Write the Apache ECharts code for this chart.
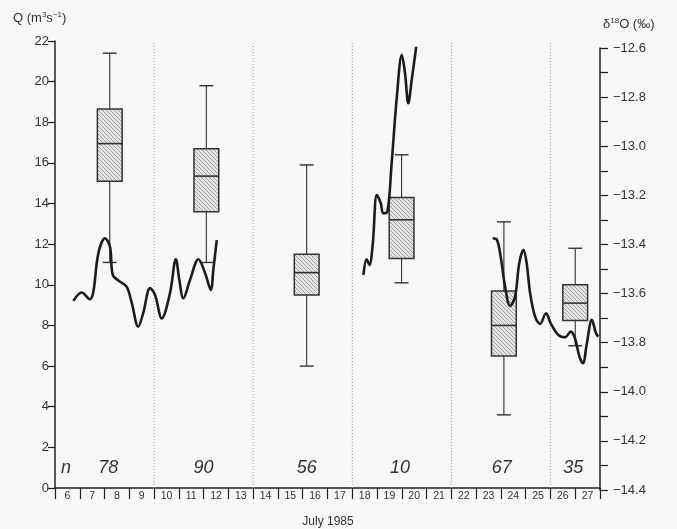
<!DOCTYPE html>
<html><head><meta charset="utf-8">
<script src="https://cdn.jsdelivr.net/npm/echarts@6/dist/echarts.min.js"></script>
<style>html,body{margin:0;padding:0;background:#f7f7f5}#c{width:677px;height:529px}</style>
</head><body><div id="c"></div>
<script>
// ---- data ----
const days = ['6','7','8','9','10','11','12','13','14','15','16','17','18','19','20','21','22','23','24','25','26','27'];
const dividers = [10, 14, 18, 22, 26];
const boxX    = [8.21, 12.11, 16.16, 19.99, 24.12, 27.0];
const boxLow  = [11.1, 11.1, 6.0, 10.1, 3.6, 7.0];
const boxQ1   = [15.1, 13.6, 9.5, 11.3, 6.5, 8.25];
const boxMed  = [16.95, 15.35, 10.6, 13.2, 8.0, 9.1];
const boxQ3   = [18.65, 16.7, 11.5, 14.3, 9.7, 10.0];
const boxHigh = [21.4, 19.8, 15.9, 16.4, 13.1, 11.8];
const nX      = [8.15, 11.99, 16.16, 19.93, 24.03, 26.92];
const nCounts = ['78', '90', '56', '10', '67', '35'];
const qTicks  = [0, 22, 2];          // min, max, interval
const oTicks  = [-14.4, -12.6, 0.2]; // min, max, interval

const seg1Days = [6.74,7.08,7.41,7.55,7.75,8.02,8.22,8.33,8.56,8.89,9.10,9.36,9.56,9.84,10.04,10.31,10.64,10.88,11.02,11.18,11.45,11.79,12.06,12.29,12.39,12.53];
const seg1Vals = [-13.630,-13.596,-13.623,-13.592,-13.436,-13.375,-13.409,-13.524,-13.547,-13.572,-13.639,-13.735,-13.680,-13.578,-13.606,-13.701,-13.599,-13.460,-13.545,-13.619,-13.545,-13.460,-13.517,-13.585,-13.504,-13.382];
const seg2Days = [18.45,18.58,18.69,18.83,18.99,19.15,19.25,19.42,19.59,19.80,20.00,20.13,20.26,20.40,20.60];
const seg2Vals = [-13.524,-13.460,-13.484,-13.395,-13.199,-13.232,-13.273,-13.267,-13.069,-12.798,-12.628,-12.703,-12.825,-12.730,-12.580];
const seg3Days = [23.67,23.83,23.99,24.17,24.37,24.57,24.74,24.91,25.04,25.18,25.38,25.58,25.82,26.01,26.32,26.59,26.82,26.99,27.17,27.31,27.47,27.67,27.84,27.93];
const seg3Vals = [-13.375,-13.379,-13.450,-13.572,-13.650,-13.613,-13.477,-13.422,-13.477,-13.599,-13.694,-13.724,-13.680,-13.721,-13.769,-13.778,-13.755,-13.782,-13.857,-13.884,-13.802,-13.707,-13.762,-13.775];

// ---- hatch pattern ----
const pc = document.createElement('canvas');
pc.width = 4; pc.height = 4;
const g = pc.getContext('2d');
g.fillStyle = '#e4e4e2'; g.fillRect(0,0,4,4);
g.strokeStyle = '#a2a2a2'; g.lineWidth = 1;
g.beginPath(); g.moveTo(-1,-1); g.lineTo(5,5); g.moveTo(-1,3); g.lineTo(1,5); g.moveTo(3,-1); g.lineTo(5,1); g.stroke();

const FONT = '"Liberation Sans", Arial, sans-serif';
const zip = (a, b) => a.map((v, i) => [v, b[i]]);
const boxData = boxX.map((x, i) => [x, boxLow[i], boxQ1[i], boxMed[i], boxQ3[i], boxHigh[i]]);

const chart = echarts.init(document.getElementById('c'), null, {renderer: 'canvas'});
const lineStyleCommon = {color: '#1c1c1c', width: 2.6};
chart.setOption({
  backgroundColor: '#f7f7f5',
  animation: false,
  grid: [
    {left: 55, right: 77, top: 41, bottom: 41},
    {left: 55, right: 77, top: 48, bottom: 39}
  ],
  xAxis: [
    {type: 'value', gridIndex: 0, min: 6, max: 28, show: false},
    {type: 'category', gridIndex: 0, data: days, position: 'bottom', boundaryGap: true,
      axisLine: {lineStyle: {color: '#222', width: 1.5}},
      axisTick: {show: true, length: 11, lineStyle: {color: '#222', width: 1.2}},
      axisLabel: {fontSize: 10.5, color: '#333', fontFamily: FONT, margin: 3, interval: 0}},
    {type: 'value', gridIndex: 1, min: 6, max: 28, show: false}
  ],
  yAxis: [
    {type: 'value', gridIndex: 0, min: qTicks[0], max: qTicks[1], interval: qTicks[2], position: 'left',
      axisLine: {show: true, lineStyle: {color: '#222', width: 1.5}},
      axisTick: {show: true, length: 7, lineStyle: {color: '#222', width: 1.2}},
      axisLabel: {fontSize: 13, color: '#333', fontFamily: FONT, margin: 6},
      splitLine: {show: false}},
    {type: 'value', gridIndex: 1, min: oTicks[0], max: oTicks[1], interval: oTicks[2], position: 'right',
      axisLine: {show: true, lineStyle: {color: '#222', width: 1.5}},
      axisTick: {show: true, length: 8, lineStyle: {color: '#222', width: 1.2}},
      minorTick: {show: true, splitNumber: 2, length: 8, lineStyle: {color: '#222', width: 1.2}},
      axisLabel: {fontSize: 13, color: '#333', fontFamily: FONT, margin: 13,
        formatter: v => '\u2212' + Math.abs(v).toFixed(1)},
      splitLine: {show: false}}
  ],
  series: [
    {
      type: 'custom', xAxisIndex: 0, yAxisIndex: 0, data: dividers.map(d => [d]),
      renderItem: (params, api) => {
        const top = api.coord([api.value(0), qTicks[1]]);
        const bot = api.coord([api.value(0), qTicks[0]]);
        return {type: 'line', shape: {x1: top[0], y1: top[1] + 2, x2: bot[0], y2: bot[1]},
          style: {stroke: '#9a9a9a', lineWidth: 1, lineDash: [1, 2]}};
      }
    },
    {
      type: 'custom', xAxisIndex: 0, yAxisIndex: 0, data: boxData, z: 3,
      renderItem: (params, api) => {
        const x = api.value(0);
        const lo = api.coord([x, api.value(1)]);
        const q1 = api.coord([x, api.value(2)]);
        const md = api.coord([x, api.value(3)]);
        const q3 = api.coord([x, api.value(4)]);
        const hi = api.coord([x, api.value(5)]);
        const hw = api.size([1, 0])[0] * 0.5;
        const cw = api.size([1, 0])[0] * 0.28;
        const cx = lo[0];
        const ws = {stroke: '#333', lineWidth: 1.1};
        return {type: 'group', children: [
          {type: 'line', shape: {x1: cx, y1: hi[1], x2: cx, y2: q3[1]}, style: ws},
          {type: 'line', shape: {x1: cx, y1: q1[1], x2: cx, y2: lo[1]}, style: ws},
          {type: 'line', shape: {x1: cx - cw, y1: hi[1], x2: cx + cw, y2: hi[1]}, style: {stroke: '#333', lineWidth: 1.4}},
          {type: 'line', shape: {x1: cx - cw, y1: lo[1], x2: cx + cw, y2: lo[1]}, style: {stroke: '#333', lineWidth: 1.4}},
          {type: 'rect', shape: {x: cx - hw, y: q3[1], width: hw * 2, height: q1[1] - q3[1]},
            style: {fill: {image: pc, repeat: 'repeat'}, stroke: '#333', lineWidth: 1.5}},
          {type: 'line', shape: {x1: cx - hw, y1: md[1], x2: cx + hw, y2: md[1]}, style: {stroke: '#333', lineWidth: 1.6}}
        ]};
      }
    },
    {
      type: 'custom', xAxisIndex: 0, yAxisIndex: 0, data: nX.map((x, i) => [x, nCounts[i]]),
      renderItem: (params, api) => {
        const p = api.coord([api.value(0), 0.98]);
        return {type: 'text', x: p[0], y: p[1],
          style: {text: nCounts[params.dataIndex], fill: '#333', font: 'italic 18px ' + FONT, align: 'center', verticalAlign: 'middle'}};
      }
    },
    {type: 'line', xAxisIndex: 2, yAxisIndex: 1, data: zip(seg1Days, seg1Vals), smooth: 0.35, symbol: 'none', lineStyle: lineStyleCommon, z: 4},
    {type: 'line', xAxisIndex: 2, yAxisIndex: 1, data: zip(seg2Days, seg2Vals), smooth: 0.35, symbol: 'none', lineStyle: lineStyleCommon, z: 4},
    {type: 'line', xAxisIndex: 2, yAxisIndex: 1, data: zip(seg3Days, seg3Vals), smooth: 0.35, symbol: 'none', lineStyle: lineStyleCommon, z: 4}
  ],
  graphic: [
    {type: 'text', left: 13, top: 11, style: {
      text: 'Q (m{s|3}s{s|\u22121})', font: '13px ' + FONT, fill: '#333',
      rich: {s: {fontSize: 8, verticalAlign: 'top', padding: [0, 0, 7, 0], fontFamily: FONT, fill: '#333'}}}},
    {type: 'text', left: 603, top: 17, style: {
      text: '\u03b4{s|18}O (\u2030)', font: '13px ' + FONT, fill: '#333',
      rich: {s: {fontSize: 8, padding: [0, 0, 7, 0], fontFamily: FONT, fill: '#333'}}}},
    {type: 'text', x: 66, y: 468, style: {text: 'n', font: 'italic 18px ' + FONT, fill: '#333', align: 'center', verticalAlign: 'middle'}},
    {type: 'text', x: 328, y: 522, style: {text: 'July 1985', font: '12px ' + FONT, fill: '#333', align: 'center', verticalAlign: 'middle'}}
  ]
});
</script></body></html>
